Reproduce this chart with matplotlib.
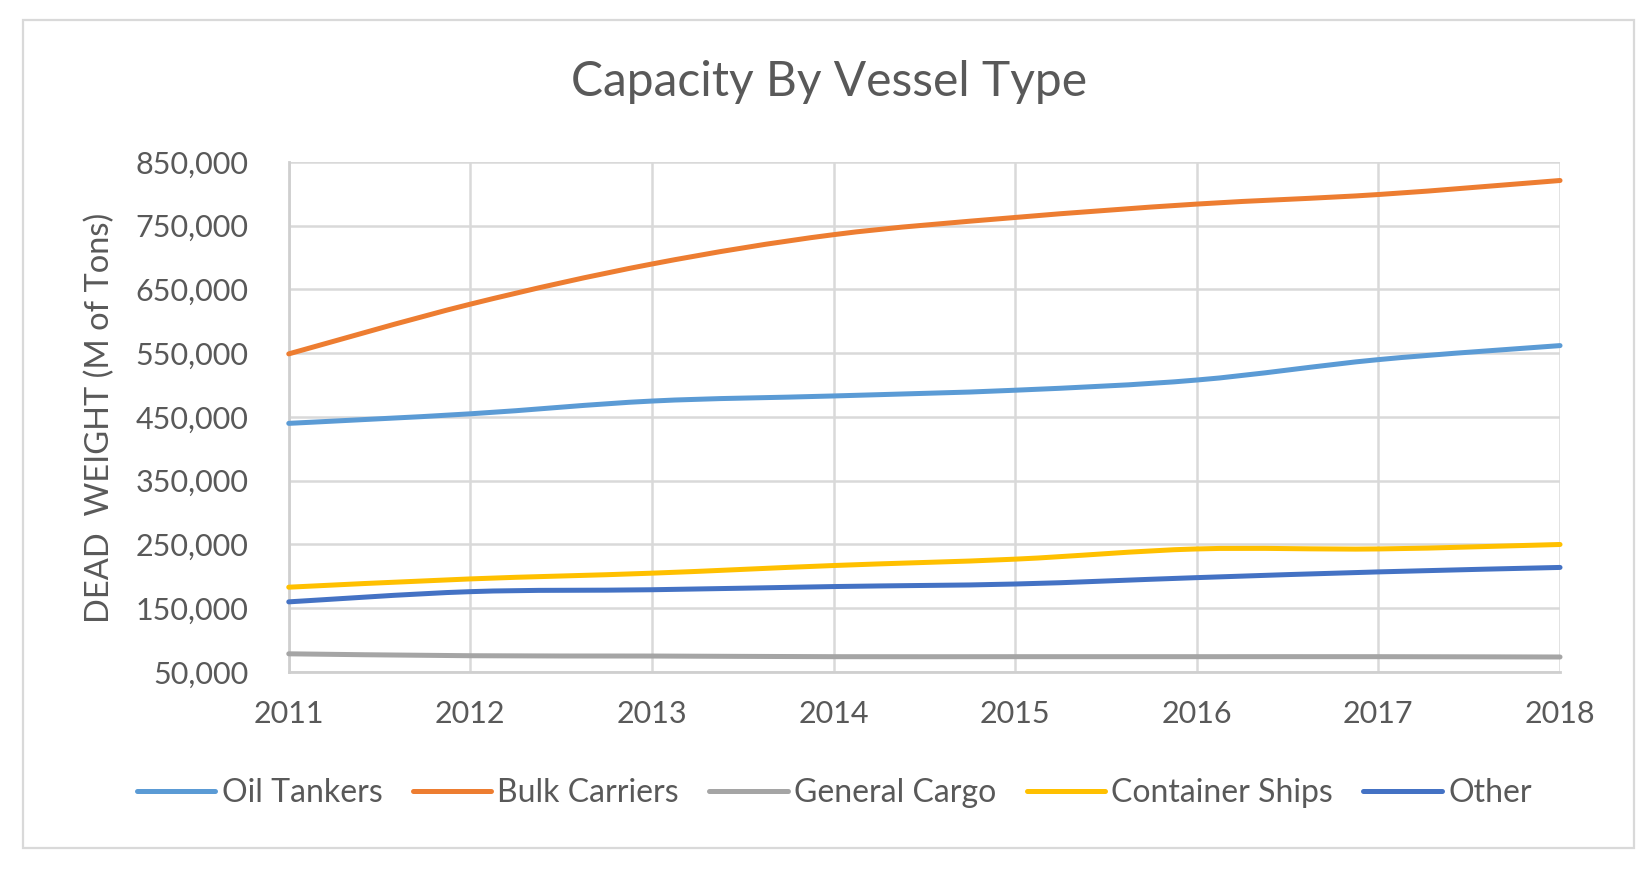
import numpy as np
import matplotlib
matplotlib.use('Agg')
import matplotlib.pyplot as plt
from matplotlib.path import Path
from matplotlib.patches import PathPatch, Rectangle
from matplotlib.lines import Line2D
from matplotlib.ticker import FuncFormatter

YEARS = [2011, 2012, 2013, 2014, 2015, 2016, 2017, 2018]

OIL_TANKERS     = [440000, 455000, 475000, 483000, 492000, 508000, 540000, 562000]
BULK_CARRIERS   = [549000, 627000, 690000, 736000, 763000, 784000, 799000, 821000]
GENERAL_CARGO   = [78500, 75500, 75000, 74000, 74000, 74000, 74000, 73500]
CONTAINER_SHIPS = [183000, 196000, 205000, 217000, 227000, 243000, 243000, 250000]
OTHER           = [160000, 176000, 179000, 184000, 188000, 198000, 207000, 214000]

SERIES = ['Oil Tankers', 'Bulk Carriers', 'General Cargo', 'Container Ships', 'Other']
COLORS = ['#5B9BD5', '#ED7D31', '#A5A5A5', '#FFC000', '#4472C4']

Y_TICKS = [50000, 150000, 250000, 350000, 450000, 550000, 650000, 750000, 850000]

TEXT_COL = '#595959'
GRID_COL = '#D9D9D9'
LW = 3.6

plt.rcParams['font.family'] = ['Lato', 'DejaVu Sans']


def smooth_path(x, y):
    # excel-style smoothed line: cubic bezier through each point
    x = np.asarray(x, float); y = np.asarray(y, float)
    px = np.concatenate([[x[0]], x, [x[-1]]])
    py = np.concatenate([[y[0]], y, [y[-1]]])
    verts = [(x[0], y[0])]
    codes = [Path.MOVETO]
    for i in range(1, len(px) - 2):
        c1 = (px[i] + (px[i+1] - px[i-1]) / 6, py[i] + (py[i+1] - py[i-1]) / 6)
        c2 = (px[i+1] - (px[i+2] - px[i]) / 6, py[i+1] - (py[i+2] - py[i]) / 6)
        verts += [c1, c2, (px[i+1], py[i+1])]
        codes += [Path.CURVE4] * 3
    return Path(verts, codes)


fig = plt.figure(figsize=(16.51, 8.71), dpi=100)
ax = fig.add_axes([0.1749, 0.2285, 0.9449 - 0.1749, 0.8140 - 0.2285])

data = [OIL_TANKERS, BULK_CARRIERS, GENERAL_CARGO, CONTAINER_SHIPS, OTHER]
for vals, col in zip(data, COLORS):
    patch = PathPatch(smooth_path(YEARS, vals), facecolor='none', edgecolor=col,
                      lw=LW, capstyle='round', joinstyle='round', zorder=3)
    patch.set_clip_on(False)
    ax.add_patch(patch)

ax.set_xlim(YEARS[0], YEARS[-1])
ax.set_ylim(Y_TICKS[0], Y_TICKS[-1])
ax.set_xticks(YEARS)
ax.set_yticks(Y_TICKS)
ax.yaxis.set_major_formatter(FuncFormatter(lambda v, p: f'{int(v):,}'))
ax.grid(True, color=GRID_COL, lw=1.8, zorder=0)
ax.set_axisbelow(True)
for s in ['top', 'right']:
    ax.spines[s].set_visible(False)
for s in ['left', 'bottom']:
    ax.spines[s].set_color('#CFCFCF')
    ax.spines[s].set_linewidth(2.0)
ax.tick_params(axis='both', length=0, labelsize=22, labelcolor=TEXT_COL)
ax.tick_params(axis='x', pad=20)
ax.tick_params(axis='y', pad=29)

fig.text(0.502, 1 - 82 / 871, 'Capacity By Vessel Type', ha='center', va='center',
         fontsize=34.5, color=TEXT_COL)
fig.text(0.0605, 1 - 418 / 871, 'DEAD  WEIGHT (M of Tons)', ha='center', va='center',
         rotation=90, fontsize=23.5, color=TEXT_COL)

handles = [Line2D([], [], color=c, lw=LW, solid_capstyle='round') for c in COLORS]
fig.legend(handles, SERIES, loc='center', bbox_to_anchor=(0.5054, 1 - 793 / 871),
           ncol=5, frameon=False, fontsize=23, labelcolor=TEXT_COL,
           handlelength=2.45, handletextpad=0.2, columnspacing=0.95)

fig.patches.append(Rectangle((22.7 / 1651, 1 - 848 / 871), (1634 - 22.7) / 1651,
                             (848 - 20) / 871, transform=fig.transFigure,
                             fill=False, edgecolor=GRID_COL, lw=1.6))

fig.savefig('out.png', dpi=100, facecolor='white')
